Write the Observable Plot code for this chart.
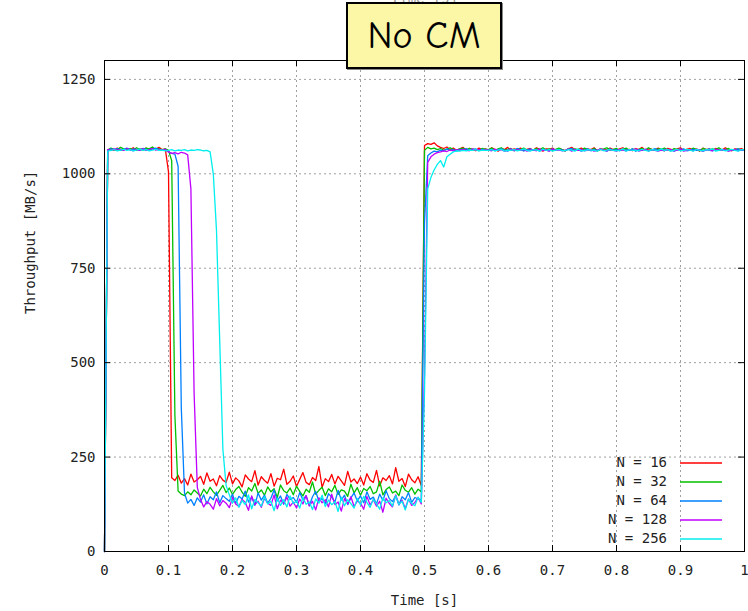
<!DOCTYPE html>
<html><head><meta charset="utf-8">
<script src="https://cdn.jsdelivr.net/npm/d3@7"></script>
<script src="https://cdn.jsdelivr.net/npm/@observablehq/plot@0.6"></script>
<style>
body{margin:0;background:#fff;}
#wrap{position:relative;width:748px;height:611px;overflow:hidden;background:#fff;}
#title{position:absolute;left:346px;top:2px;width:152px;height:63px;background:#fbf7a6;border:2px solid #000;box-shadow:1px 1px 0 #888;display:flex;align-items:center;justify-content:center;font-family:"Comic Sans MS","Comic Neue","DejaVu Sans",sans-serif;font-size:38px;color:#000;}
</style></head><body>
<div id="wrap"><div id="chart"></div><div id="title">No CM</div></div>
<script>
const step = 0.005;
const seriesNames = ["N = 16", "N = 32", "N = 64", "N = 128", "N = 256"];
const seriesColors = ["#ff0000", "#00c000", "#0080ff", "#c000ff", "#00eeee"];
const xTicks = [0, 0.1, 0.2, 0.3, 0.4, 0.5, 0.6, 0.7, 0.8, 0.9, 1];
const yTicks = [0, 250, 500, 750, 1000, 1250];
const xLabel = "Time [s]";
const yLabel = "Throughput [MB/s]";
const titleText = "No CM";

const n16 = [
0,1064,1066,1062,1068,1065,1063,1067,1064,1069,1062,1066,1065,1068,1063,1067,1065,1070,1064,1066,
1005,195,188,202,181,193,176,205,184,190,199,178,208,186,192,174,201,189,183,210,
179,195,187,171,203,192,185,214,176,198,188,181,206,173,194,190,218,178,186,200,
172,191,209,183,177,196,188,225,170,193,185,204,179,199,187,175,212,184,192,180,
197,176,206,189,183,215,174,195,188,201,179,222,186,193,172,205,190,182,198,175,
1075,1080,1078,1082,1074,1070,1067,1071,1064,1068,1062,1066,1070,1063,1067,1065,1061,1068,1064,1066,
1063,1069,1065,1060,1067,1064,1070,1062,1066,1064,1068,1061,1065,1067,1063,1069,1064,1060,1066,1065,
1068,1062,1067,1064,1061,1066,1070,1063,1065,1068,1062,1066,1064,1069,1061,1067,1063,1065,1068,1064,
1062,1066,1069,1063,1065,1061,1067,1064,1070,1062,1066,1065,1063,1068,1064,1061,1067,1065,1063,1066,
1069,1062,1065,1067,1063,1066,1060,1068,1064,1066,1062,1067,1065,1063,1069,1064,1061,1066,1064,1067,
1063];
const n32 = [
0,1062,1068,1065,1063,1070,1066,1064,1067,1062,1069,1065,1063,1068,1066,1071,1064,1067,1063,1066,
1062,1035,360,160,152,148,158,150,163,155,147,165,153,170,158,149,162,175,156,168,
151,164,172,157,146,169,160,180,154,163,149,171,158,166,143,176,161,155,168,150,
173,159,147,165,157,184,152,162,170,148,166,158,175,151,163,160,146,178,155,169,
149,167,161,172,153,158,186,150,164,171,155,160,148,176,162,157,169,152,165,158,
1062,1070,1066,1068,1064,1067,1063,1065,1069,1064,1062,1066,1068,1063,1067,1065,1064,1062,1067,1065,
1064,1068,1062,1066,1069,1063,1065,1067,1061,1066,1064,1068,1063,1065,1062,1067,1064,1069,1063,1066,
1062,1065,1068,1064,1061,1067,1063,1066,1064,1062,1068,1065,1063,1067,1061,1064,1066,1069,1062,1065,
1067,1063,1064,1068,1062,1066,1061,1065,1067,1063,1069,1064,1062,1066,1065,1068,1063,1061,1067,1064,
1066,1062,1065,1063,1068,1064,1061,1067,1065,1062,1066,1064,1069,1063,1065,1067,1062,1064,1066,1063,
1065];
const n64 = [
0,1063,1066,1064,1067,1062,1065,1068,1063,1066,1064,1062,1067,1065,1063,1066,1068,1064,1062,1065,
1058,1054,1052,1020,380,155,128,138,122,142,131,150,126,145,137,158,129,148,140,133,
152,127,146,139,160,131,144,122,155,136,149,128,141,163,134,147,125,151,138,143,
130,156,137,148,121,145,159,133,140,127,153,144,131,162,136,149,124,142,155,134,
147,129,158,138,144,126,152,135,161,140,132,148,123,145,137,156,130,143,139,136,
870,1048,1055,1060,1058,1063,1061,1066,1062,1064,1060,1065,1063,1067,1062,1064,1066,1061,1065,1063,
1062,1065,1061,1064,1066,1063,1060,1065,1062,1067,1064,1061,1063,1066,1062,1064,1060,1065,1063,1061,
1066,1062,1064,1063,1061,1065,1067,1062,1064,1060,1063,1066,1061,1064,1062,1065,1063,1060,1066,1062,
1064,1061,1065,1063,1062,1066,1060,1064,1062,1065,1061,1063,1067,1062,1064,1061,1065,1063,1060,1064,
1062,1066,1061,1063,1065,1062,1064,1060,1063,1066,1061,1064,1062,1065,1063,1061,1064,1062,1066,1063,
1062];
const n128 = [
0,1064,1062,1066,1063,1065,1062,1067,1064,1061,1065,1063,1066,1062,1064,1067,1063,1065,1062,1064,
1058,1054,1056,1053,1057,1055,1050,960,420,170,138,118,132,125,112,140,121,135,128,116,
143,126,119,138,130,109,147,124,133,117,141,128,122,150,113,136,127,144,120,131,
115,139,126,148,121,133,110,142,129,137,118,152,124,131,107,140,126,145,119,134,
128,112,146,123,137,120,133,104,141,127,118,150,125,136,114,139,122,130,143,126,
470,1030,1045,1052,1056,1058,1061,1059,1063,1061,1064,1062,1065,1063,1061,1066,1063,1064,1062,1063,
1063,1061,1065,1062,1064,1060,1063,1066,1061,1064,1062,1065,1060,1063,1064,1061,1066,1062,1063,1060,
1065,1062,1064,1061,1063,1066,1060,1064,1062,1065,1061,1063,1064,1060,1062,1066,1063,1061,1064,1062,
1060,1065,1063,1061,1064,1062,1066,1060,1063,1065,1061,1064,1062,1060,1063,1065,1062,1064,1061,1063,
1066,1060,1062,1064,1061,1065,1063,1060,1064,1062,1061,1065,1063,1062,1064,1060,1063,1065,1061,1064,
1062];
const n256 = [
0,1060,1062,1064,1061,1063,1065,1062,1064,1061,1063,1066,1062,1064,1061,1063,1065,1062,1063,1061,
1062,1064,1061,1063,1062,1064,1061,1063,1062,1064,1063,1061,1062,1058,1000,850,560,270,175,150,
128,142,117,135,124,150,113,138,129,120,145,126,133,108,141,122,137,118,147,127,
134,115,143,125,131,111,139,128,149,119,136,124,132,106,144,121,137,127,115,140,
123,146,130,117,138,126,112,142,129,135,120,148,125,133,110,139,127,121,144,130,
420,960,990,1010,1025,1035,1018,1045,1052,1058,1061,1060,1062,1061,1063,1062,1064,1061,1063,1062,
1062,1064,1061,1063,1065,1060,1063,1062,1064,1061,1063,1066,1062,1060,1064,1063,1061,1065,1062,1064,
1060,1063,1065,1061,1062,1064,1063,1060,1066,1062,1061,1064,1063,1062,1060,1065,1061,1063,1064,1062,
1061,1063,1066,1060,1064,1062,1063,1061,1065,1062,1060,1064,1063,1061,1066,1062,1064,1060,1063,1065,
1061,1062,1064,1063,1060,1065,1062,1061,1064,1063,1066,1060,1062,1064,1061,1063,1065,1062,1060,1064,
1063];
const seriesValues = [n16, n32, n64, n128, n256];

const data = seriesValues.flatMap((vals, s) =>
  vals.map((v, i) => ({t: +(i * step).toFixed(4), v, s: seriesNames[s]})));

const W = 748, H = 611, mT = 60, mR = 4, mB = 60, mL = 104;
const plotH = H - mT - mB, plotW = W - mL - mR, tk = 6;
const fmtX = d => String(+d.toFixed(1));
const fmtY = d => String(d);
const gridStyle = {stroke: "#a0a0a0", strokeOpacity: 1, strokeDasharray: "2,3"};

const chart = Plot.plot({
  width: W, height: H,
  marginTop: mT, marginRight: mR, marginBottom: mB, marginLeft: mL,
  style: {fontFamily: "'DejaVu Sans Mono', monospace", fontSize: "14px", color: "#222", background: "#fff", overflow: "visible"},
  x: {domain: [0, 1]},
  y: {domain: [0, 1300]},
  color: {domain: seriesNames, range: seriesColors},
  marks: [
    Plot.gridX(xTicks.slice(1, -1), gridStyle),
    Plot.gridY(yTicks.slice(1), gridStyle),
    Plot.line(data, {x: "t", y: "v", z: "s", stroke: "s", strokeWidth: 1.3}),
    Plot.tickX(xTicks, {x: d => d, insetTop: plotH - tk, stroke: "#000"}),
    Plot.tickX(xTicks, {x: d => d, insetBottom: plotH - tk, stroke: "#000"}),
    Plot.tickY(yTicks, {y: d => d, insetRight: plotW - tk, stroke: "#000"}),
    Plot.tickY(yTicks, {y: d => d, insetLeft: plotW - tk, stroke: "#000"}),
    Plot.frame({stroke: "#000"}),
    Plot.axisX(xTicks, {tickSize: 0, tickPadding: 14, tickFormat: fmtX, label: null}),
    Plot.axisY(yTicks, {tickSize: 0, tickPadding: 9, tickFormat: fmtY, label: null}),
    Plot.text([xLabel], {frameAnchor: "bottom", dy: 49, lineAnchor: "middle"}),
    Plot.text([xLabel], {frameAnchor: "top", dy: -62, lineAnchor: "middle", fill: "#999"}),
    Plot.text([yLabel], {frameAnchor: "left", dx: -74, dy: 8, rotate: -90, lineAnchor: "middle"})
  ]
});
document.getElementById("chart").appendChild(chart);
document.getElementById("title").textContent = titleText;

// legend
const svg = d3.select(chart);
const lg = svg.append("g").attr("font-family", "'DejaVu Sans Mono', monospace").attr("font-size", 14).attr("fill", "#222");
seriesNames.forEach((name, i) => {
  const y = 463 + i * 19;
  lg.append("text").attr("x", 667).attr("y", y).attr("text-anchor", "end").attr("dominant-baseline", "middle").text(name);
  lg.append("line").attr("x1", 680).attr("x2", 722).attr("y1", y).attr("y2", y).attr("stroke", seriesColors[i]).attr("stroke-width", 1.3);
});
</script>
</body></html>
